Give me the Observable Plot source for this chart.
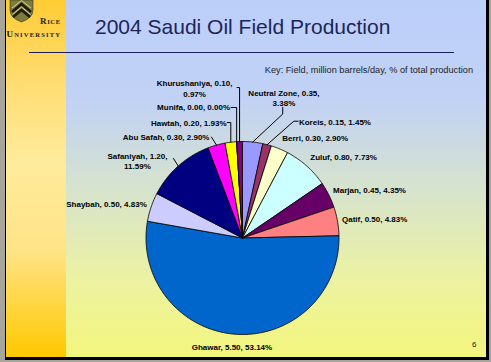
<!DOCTYPE html>
<html>
<head>
<meta charset="utf-8">
<script src="https://cdn.jsdelivr.net/npm/d3@7"></script>
<script src="https://cdn.jsdelivr.net/npm/@observablehq/plot@0.6"></script>
<style>
html,body{margin:0;padding:0;width:491px;height:362px;overflow:hidden;background:#a8a59b;}
#page{position:relative;width:491px;height:362px;}
#slide{position:absolute;left:5px;top:0;width:480px;height:357px;border-left:1px solid #000;border-right:3px solid #000;border-bottom:3px solid #000;
  background:linear-gradient(to bottom,#bccffa 0%,#c1d2f5 28%,#d9e5c8 56%,#ecf2a2 78%,#f3f67c 100%);}
#strip{position:absolute;left:6px;top:0;width:60px;height:357px;
  background:linear-gradient(to bottom,#ffcc33 0%,#ffdc70 22%,#ffeb9c 45%,#ffe488 70%,#ffc800 100%);}
.txt{position:absolute;white-space:nowrap;font-family:Arial,"Liberation Sans",sans-serif;}
#title{left:95px;top:15.7px;font-size:21px;line-height:21px;color:#1d2559;}
#rule{position:absolute;left:29px;top:52px;width:425px;height:1.3px;background:#1a1f5c;}
#key{right:18px;top:66px;font-size:9.2px;line-height:9.2px;color:#222;}
#num{left:472px;top:341.2px;font-size:8px;line-height:8px;color:#222;}
#logo{position:absolute;left:0;top:0;}
#chart{position:absolute;left:0;top:0;}
</style>
</head>
<body>
<div id="page">
  <div id="slide"></div>
  <div id="strip"></div>
  <svg id="logo" width="70" height="45" viewBox="0 0 70 45">
    <path d="M10,0 L33,0 L33,10 Q33,18 21.5,22 Q10,18 10,10 Z" fill="#7d7a3c" stroke="#3a3818" stroke-width="0.6"/>
    <path d="M12,12 L21.5,4 L31,12" fill="none" stroke="#1c1c0c" stroke-width="2.6"/>
    <path d="M13,17 L21.5,10 L30,17" fill="none" stroke="#1c1c0c" stroke-width="2.6"/>
    <path d="M12,8 L21.5,0.5 L31,8" fill="none" stroke="#d6d49a" stroke-width="1"/>
    <path d="M12.5,14.5 L21.5,7 L30.5,14.5" fill="none" stroke="#d6d49a" stroke-width="1"/>
    <text x="40" y="23.5" textLength="20" lengthAdjust="spacing" font-family="'Liberation Serif',serif" font-weight="bold" fill="#222"><tspan font-size="9">R</tspan><tspan font-size="6.5">ICE</tspan></text>
    <text x="6.5" y="36.5" textLength="53.5" lengthAdjust="spacing" font-family="'Liberation Serif',serif" font-weight="bold" fill="#222"><tspan font-size="9">U</tspan><tspan font-size="6.5">NIVERSITY</tspan></text>
  </svg>
  <div id="title" class="txt">2004 Saudi Oil Field Production</div>
  <div id="rule"></div>
  <div id="key" class="txt">Key: Field, million barrels/day, % of total production</div>
  <div id="num" class="txt">6</div>
  <div id="chart"></div>
</div>
<script>
// ---- data (clockwise from 12 o'clock) ----
const fields = ["Neutral Zone","Koreis","Berri","Zuluf","Marjan","Qatif","Ghawar","Shaybah","Safaniyah","Abu Safah","Hawtah","Munifa","Khurushaniya"];
const production = [0.35,0.15,0.30,0.80,0.45,0.50,5.50,0.50,1.20,0.30,0.20,0.00,0.10]; // million barrels/day
const sliceColors = ["#9999FF","#993366","#FFFFCC","#CCFFFF","#660066","#FF8080","#0066CC","#CCCCFF","#000080","#FF00FF","#FFFF00","#00FFFF","#800080"];
const wrapped = ["Neutral Zone","Safaniyah","Khurushaniya"];

// ---- layout ----
const W = 491, H = 362, cx = 242, cy = 237.5, R = 96.5;
// manually dragged labels: leader offsets from slice edge point, text offset from leader end
const labelLayout = {
  "Neutral Zone": {leader: [[30, -28], [30, -34.5]], text: [1.2, -10], anchor: "middle"},
  "Koreis":       {leader: [[26.7, -23.5], [31, -23.5]], text: [0.8, 0], anchor: "start"},
  "Safaniyah":    {leader: [[-4.8, -7.5]], text: [-36, 2], anchor: "middle"},
  "Abu Safah":    {leader: [[-5, -8]], text: [-2, 0], anchor: "end"},
  "Hawtah":       {leader: [[0, -19.7], [-3.7, -19.7]], text: [-0.6, 0], anchor: "end"},
  "Munifa":       {leader: [[0, -34.2], [-5.6, -34.2]], text: [-1, -0.5], anchor: "end"},
  "Khurushaniya": {leader: [[0, -54], [-2.5, -54]], text: [-42.5, 0.5], anchor: "middle"}
};

const total = d3.sum(production);
const data = fields.map((f, i) => ({field: f, value: production[i], pct: production[i] / total * 100}));
const arcs = d3.pie().sort(null).value(d => d.value)(data);
const pt = (a, r) => [cx + r * Math.sin(a), cy - r * Math.cos(a)];

const sliceRows = arcs.flatMap(s => {
  const span = s.endAngle - s.startAngle;
  const n = Math.max(2, Math.ceil(span / (Math.PI / 180)));
  const pts = [[cx, cy]];
  for (let k = 0; k <= n; k++) pts.push(pt(s.startAngle + span * k / n, R));
  pts.push([cx, cy]);
  return pts.map(([x, y]) => ({field: s.data.field, x, y}));
});

const ctx = document.createElement("canvas").getContext("2d");
ctx.font = "bold 8px 'Liberation Sans', Arial, sans-serif";

const labelRows = [], leaderRows = [];
for (const s of arcs) {
  const d = s.data;
  const wrap = wrapped.includes(d.field);
  const text = `${d.field}, ${d.value.toFixed(2)},${wrap ? "\n" : " "}${d.pct.toFixed(2)}%`;
  const mid = (s.startAngle + s.endAngle) / 2;
  const L = labelLayout[d.field];
  if (L) {
    const p0 = pt(mid, R);
    const pts = [p0, ...L.leader.map(([dx, dy]) => [p0[0] + dx, p0[1] + dy])];
    pts.forEach(([x, y]) => leaderRows.push({field: d.field, x, y}));
    const end = pts[pts.length - 1];
    labelRows.push({text, x: end[0] + L.text[0], y: end[1] + L.text[1], anchor: L.anchor});
  } else {
    const p = pt(mid, R + 3);
    const sx = Math.sin(mid), sy = -Math.cos(mid);
    let anchor, x;
    if (sx > 0.3) { anchor = "start"; x = p[0] + 1.5; }
    else if (sx < -0.3) { anchor = "end"; x = p[0] - 1.5; }
    else { anchor = "middle"; x = p[0] + sx * ctx.measureText(text).width / 2; }
    labelRows.push({text, x, y: p[1] + 9 * sy, anchor});
  }
}

const textOpts = {x: "x", y: "y", text: "text", lineAnchor: "middle", lineHeight: 1.3,
  fontSize: 8, fontWeight: "bold", fontFamily: "'Liberation Sans', Arial, sans-serif", fill: "#000"};

const chart = Plot.plot({
  width: W, height: H, margin: 0,
  x: {domain: [0, W], range: [0, W], axis: null},
  y: {domain: [0, H], range: [0, H], axis: null},
  color: {domain: fields, range: sliceColors},
  style: {background: "transparent", overflow: "visible"},
  marks: [
    Plot.line(sliceRows, {x: "x", y: "y", z: "field", fill: "field", stroke: "#000", strokeWidth: 0.8, strokeLinejoin: "round", curve: "linear"}),
    Plot.line(leaderRows, {x: "x", y: "y", z: "field", stroke: "#000", strokeWidth: 1, curve: "linear"}),
    ...["start", "middle", "end"].map(a => Plot.text(labelRows.filter(d => d.anchor === a), {...textOpts, textAnchor: a}))
  ]
});
document.getElementById("chart").appendChild(chart);
</script>
</body>
</html>
